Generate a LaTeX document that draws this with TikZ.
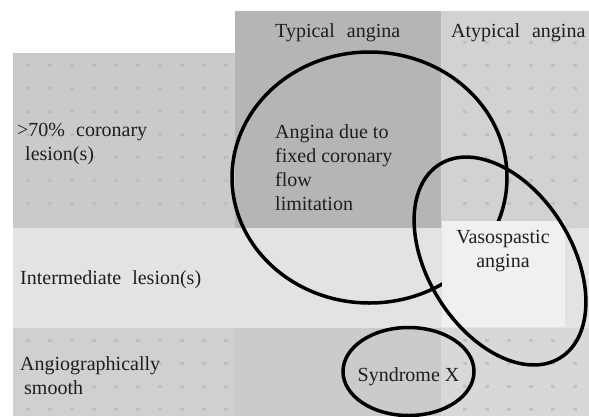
\documentclass[tikz,border=0pt]{standalone}
\usepackage{fontspec}
\setmainfont{Liberation Serif}
\definecolor{rowA}{HTML}{CACACA}
\definecolor{typc}{HTML}{B5B5B5}
\definecolor{atypc}{HTML}{D2D2D2}
\definecolor{rowB}{HTML}{E3E3E3}
\definecolor{rowCl}{HTML}{D0D0D0}
\definecolor{rowCm}{HTML}{CBCBCB}
\definecolor{rowCr}{HTML}{D8D8D8}
\definecolor{boxc}{HTML}{F0F0F0}
\definecolor{dotc}{HTML}{B4B4B4}
\definecolor{txtc}{HTML}{1E1E1E}
\begin{document}
\begin{tikzpicture}[x=1pt,y=-1pt,
  lbl/.style={font=\fontsize{20}{24}\selectfont, inner sep=0pt, align=left, text=txtc},
  clbl/.style={font=\fontsize{20}{24}\selectfont, inner sep=0pt, align=center, text=txtc},
  ring/.style={line width=3.5pt, draw=black},
  dotmark/.style={fill=dotc, opacity=0.6}]
\useasboundingbox (0,0) rectangle (589,416);
\fill[white] (0,0) rectangle (589,416);
% background cells
\fill[rowA] (13,53) rectangle (235,228);
\fill[typc] (235,11) rectangle (441,228);
\fill[atypc] (441,11) rectangle (589,228);
\fill[rowB] (13,228) rectangle (589,328);
\fill[rowCl] (13,328) rectangle (235,416);
\fill[rowCm] (235,328) rectangle (441,416);
\fill[rowCr] (441,328) rectangle (589,416);
% texture
\foreach \x in {28,50,...,226} \foreach \y in {65,88,...,225} {\fill[dotmark] (\x-2,\y-1.5) rectangle (\x+2,\y+1.5);}
\foreach \x in {465,487,...,589} \foreach \y in {42,65,...,225} {\fill[dotmark] (\x-2,\y-1.5) rectangle (\x+2,\y+1.5);}
\foreach \x in {28,50,...,226} \foreach \y in {340,363,...,416} {\fill[dotmark] (\x-2,\y-1.5) rectangle (\x+2,\y+1.5);}
\foreach \x in {465,487,...,589} \foreach \y in {340,363,...,416} {\fill[dotmark] (\x-2,\y-1.5) rectangle (\x+2,\y+1.5);}
% big ellipse (fixed coronary flow limitation)
\draw[ring] (369.5,177.5) ellipse [x radius=137.5pt, y radius=125.5pt];
% vasospastic box
\fill[boxc] (442,221) rectangle (565,327);
% syndrome X ellipse
\draw[ring] (408.5,371.5) ellipse [x radius=65.5pt, y radius=44pt];
% vasospastic ellipse
\begin{scope}[shift={(500,261)}, rotate=-58]
\draw[ring] (0,0) ellipse [x radius=114pt, y radius=72pt];
\end{scope}
% texts
\node[lbl, anchor=west] (typ) at (275,33) {Typical\hspace{0.6em}angina};
\node[lbl, anchor=west] (atyp) at (451,33) {Atypical\hspace{0.6em}angina};
\node[lbl, anchor=west] (r1) at (17,144) {>70\%\hspace{0.55em}coronary\\\hspace{0.4em}lesion(s)};
\node[lbl, anchor=west] (r2) at (20,280) {Intermediate\hspace{0.55em}lesion(s)};
\node[lbl, anchor=west] (r3) at (20,376) {Angiographically\\\hspace{0.2em}smooth};
\node[lbl, anchor=west] (fixed) at (275,168) {Angina due to\\fixed coronary\\flow\\limitation};
\node[clbl] (vaso) at (503,251) {Vasospastic\\angina};
\node[clbl] (synx) at (408.5,377) {Syndrome X};
\end{tikzpicture}
\end{document}
